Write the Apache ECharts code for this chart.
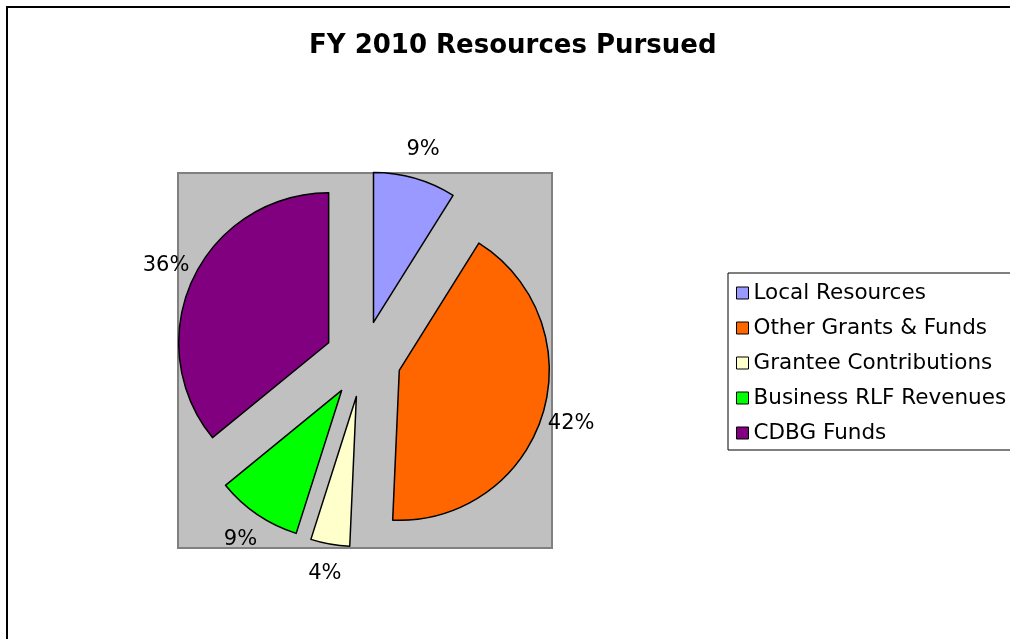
<!DOCTYPE html>
<html>
<head>
<meta charset="utf-8">
<script src="https://cdn.jsdelivr.net/npm/echarts@6/dist/echarts.min.js"></script>
<style>
    html, body { margin: 0; padding: 0; background: #fff; }
    #chart { width: 1010px; height: 639px; }
</style>
</head>
<body>
<div id="chart"></div>
<script>
var categories = ['Local Resources', 'Other Grants & Funds', 'Grantee Contributions', 'Business RLF Revenues', 'CDBG Funds'];
var shares = [8.9, 41.8, 4.2, 9.2, 35.9];
var colors = ['#9999FF', '#FF6600', '#FFFFCC', '#00FF00', '#800080'];

var font = 'DejaVu Sans, Verdana, sans-serif';

var chart = echarts.init(document.getElementById('chart'));

var pieData = categories.map(function (name, i) {
    return {
        name: name,
        value: shares[i],
        selected: true,
        itemStyle: { color: colors[i] }
    };
});

var option = {
    animation: false,
    title: {
        text: 'FY 2010 Resources Pursued',
        left: 304,
        top: 28,
        textStyle: {
            fontFamily: font,
            fontSize: 26,
            fontWeight: 'bold',
            color: '#000'
        }
    },
    legend: {
        orient: 'vertical',
        left: 728,
        top: 273,
        padding: [9, 12, 6, 8],
        itemGap: 13,
        itemWidth: 12,
        itemHeight: 12,
        icon: 'rect',
        borderColor: '#000',
        borderWidth: 1,
        itemStyle: { borderColor: '#000', borderWidth: 1 },
        textStyle: {
            fontFamily: font,
            fontSize: 21.5,
            color: '#000'
        },
        data: categories
    },
    graphic: [
        {
            type: 'rect',
            z: -10,
            shape: { x: 7, y: 7, width: 1100, height: 700 },
            style: { fill: 'none', stroke: '#000', lineWidth: 2 }
        },
        {
            type: 'rect',
            z: -5,
            shape: { x: 178, y: 173, width: 374, height: 375 },
            style: { fill: '#C0C0C0', stroke: '#808080', lineWidth: 2 }
        }
    ],
    series: [
        {
            name: 'FY 2010 Resources Pursued',
            type: 'pie',
            center: [363, 359],
            radius: 150,
            startAngle: 90,
            clockwise: true,
            selectedMode: 'multiple',
            selectedOffset: 38,
            avoidLabelOverlap: false,
            percentPrecision: 0,
            itemStyle: { borderColor: '#000', borderWidth: 1.5 },
            select: {
                itemStyle: { borderColor: '#000', borderWidth: 1.5 }
            },
            emphasis: { disabled: true },
            label: {
                show: true,
                position: 'outside',
                formatter: '{d}%',
                distanceToLabelLine: 0,
                fontFamily: font,
                fontSize: 21,
                color: '#000'
            },
            labelLine: {
                show: false,
                length: 30,
                length2: 0
            },
            labelLayout: function () {
                return { align: 'center', verticalAlign: 'middle' };
            },
            data: pieData
        }
    ]
};

chart.setOption(option);
</script>
</body>
</html>
